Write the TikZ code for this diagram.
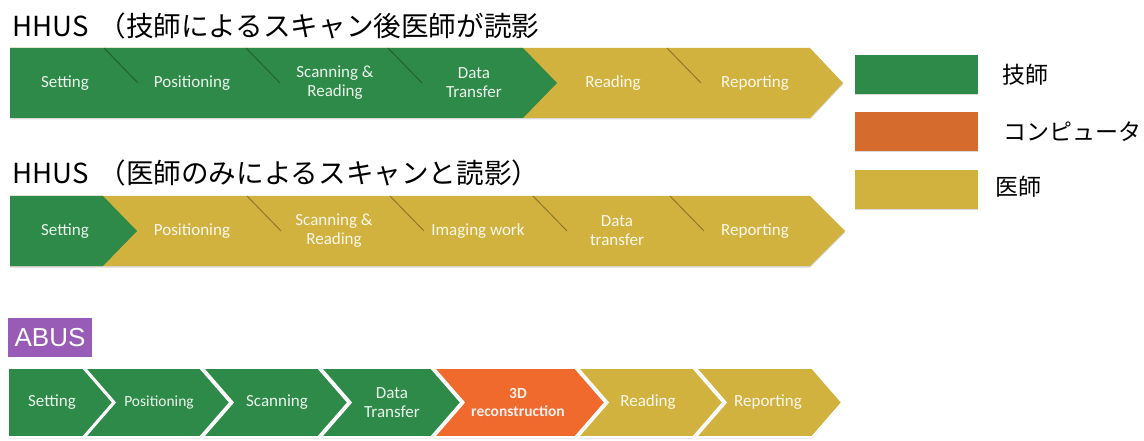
\documentclass[tikz,border=0pt]{standalone}
\usepackage{fontspec}
\setmainfont{Carlito}
\newfontfamily\jpfont{Noto Sans CJK JP}
\newfontfamily\absfont{Liberation Sans}
\usetikzlibrary{positioning,shadows}

\definecolor{techgreen}{RGB}{46,138,72}
\definecolor{docgold}{RGB}{210,178,62}
\definecolor{compor}{RGB}{240,105,45}
\definecolor{legor}{RGB}{213,108,46}
\definecolor{abuspurple}{RGB}{152,92,182}
\definecolor{greenline}{RGB}{28,84,44}
\definecolor{goldline}{RGB}{120,100,36}

\begin{document}
\begin{tikzpicture}[x=1pt, y=-1pt,
    lbl/.style={text=white, text opacity=0.9, align=center, inner sep=0pt, font=\fontsize{17}{19}\selectfont},
    title/.style={anchor=base west, inner sep=0pt, font=\jpfont\fontsize{27.6}{30}\selectfont},
    legbox/.style={minimum width=123pt, minimum height=39pt, inner sep=0pt, drop shadow={shadow xshift=0pt, shadow yshift=-1.5pt, opacity=0.3}},
    legtxt/.style={inner sep=0pt, font=\jpfont\fontsize{23}{26}\selectfont},
    band/.style={drop shadow={shadow xshift=0pt, shadow yshift=-1.5pt, opacity=0.3}},
    chev/.style={draw=white, line width=1.6pt, drop shadow={shadow xshift=0pt, shadow yshift=-1.5pt, opacity=0.25}},
    cut/.style={line width=1pt, opacity=0.75}
]
\useasboundingbox (0,0) rectangle (1144,441);

% first row: technician scans, doctor reads
\node[title] (t1) at (12,37) {HHUS\hspace{10pt}（技師によるスキャン後医師が読影};
\fill[docgold, band] (10,48) -- (810,48) -- (843,83) -- (810,118) -- (10,118) -- cycle;
\fill[techgreen] (10,48) -- (523,48) -- (557,83) -- (523,118) -- (10,118) -- cycle;
\draw[cut, greenline] (104,48) -- (138,83);
\draw[cut, greenline] (246,48) -- (280,83);
\draw[cut, greenline] (388,48) -- (422,83);
\draw[cut, goldline] (667,48) -- (701,83);
\node[lbl] (r1a) at (65,83) {Setting};
\node[lbl] (r1b) at (192,83) {Positioning};
\node[lbl] (r1c) at (335,83) {Scanning \&\\Reading};
\node[lbl] (r1d) at (474,83) {Data\\Transfer};
\node[lbl] (r1e) at (613,83) {Reading};
\node[lbl] (r1f) at (755,83) {Reporting};

% second row: doctor only
\node[title] (t2) at (12,183) {HHUS\hspace{10pt}（医師のみによるスキャンと読影）};
\fill[docgold, band] (10,196) -- (810,196) -- (845,231) -- (810,266) -- (10,266) -- cycle;
\fill[techgreen] (10,196) -- (103,196) -- (137,231) -- (103,266) -- (10,266) -- cycle;
\draw[cut, goldline] (247,196) -- (281,231);
\draw[cut, goldline] (390,196) -- (424,231);
\draw[cut, goldline] (533,196) -- (567,231);
\draw[cut, goldline] (670,196) -- (704,231);
\node[lbl] (r2a) at (65,231) {Setting};
\node[lbl] (r2b) at (192,231) {Positioning};
\node[lbl] (r2c) at (334,231) {Scanning \&\\Reading};
\node[lbl] (r2d) at (478,231) {Imaging work};
\node[lbl] (r2e) at (617,231) {Data\\transfer};
\node[lbl] (r2f) at (755,231) {Reporting};

% third row: ABUS
\node[fill=abuspurple, text=white, minimum width=84pt, minimum height=39pt, inner sep=0pt,
      font=\absfont\fontsize{26}{28}\selectfont] (abus) at (50,337.5) {ABUS};
\fill[techgreen, chev] (8,368) -- (83,368) -- (113,402.5) -- (83,437) -- (8,437) -- cycle;
\fill[techgreen, chev] (85,368) -- (200,368) -- (230,402.5) -- (200,437) -- (85,437) -- (115,402.5) -- cycle;
\fill[techgreen, chev] (203,368) -- (318,368) -- (348,402.5) -- (318,437) -- (203,437) -- (233,402.5) -- cycle;
\fill[techgreen, chev] (321,368) -- (431,368) -- (461,402.5) -- (431,437) -- (321,437) -- (351,402.5) -- cycle;
\fill[compor, chev] (434,368) -- (575,368) -- (605,402.5) -- (575,437) -- (434,437) -- (464,402.5) -- cycle;
\fill[docgold, chev] (578,368) -- (693,368) -- (723,402.5) -- (693,437) -- (578,437) -- (608,402.5) -- cycle;
\fill[docgold, chev] (696,368) -- (812,368) -- (842,402.5) -- (812,437) -- (696,437) -- (726,402.5) -- cycle;
\node[lbl] (r3a) at (52,402.5) {Setting};
\node[lbl, font=\fontsize{15.5}{18}\selectfont] (r3b) at (159,402.5) {Positioning};
\node[lbl] (r3c) at (277,402.5) {Scanning};
\node[lbl] (r3d) at (392,402.5) {Data\\Transfer};
\node[lbl, font=\bfseries\fontsize{15.5}{18}\selectfont] (r3e) at (518,402.5) {3D\\reconstruction};
\node[lbl] (r3f) at (648,402.5) {Reading};
\node[lbl] (r3g) at (768,402.5) {Reporting};

% legend
\node[legbox, fill=techgreen] (ktech) at (916.5,74.5) {};
\node[legbox, fill=legor] (kcomp) at (916.5,131.5) {};
\node[legbox, fill=docgold] (kdoc) at (916.5,189.5) {};
\node[legtxt, right=24pt of ktech] (ltech) {技師};
\node[legtxt, right=25pt of kcomp] (lcomp) {コンピュータ};
\node[legtxt, right=17pt of kdoc, yshift=3pt] (ldoc) {医師};
\end{tikzpicture}
\end{document}
